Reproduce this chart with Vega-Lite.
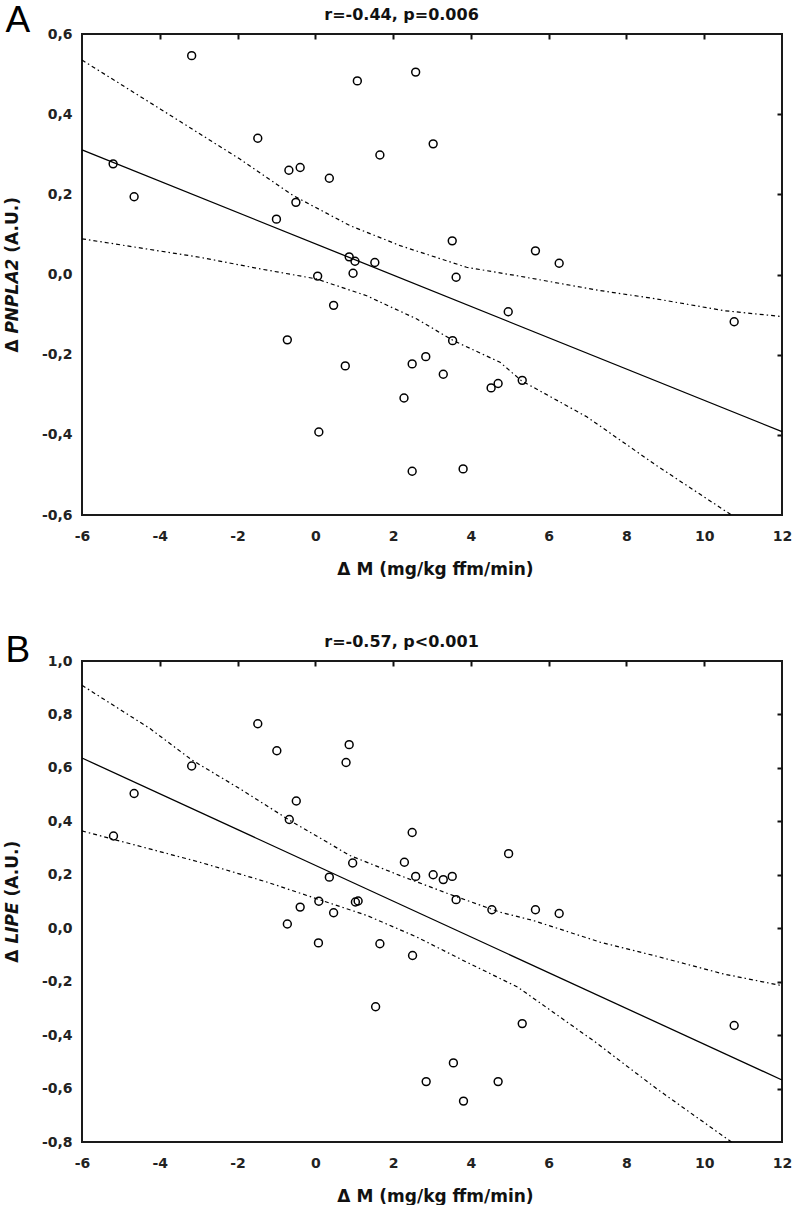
{
  "$schema": "https://vega.github.io/schema/vega-lite/v6.json",
  "background": "white",
  "padding": {"left": 2, "top": 0, "right": 0, "bottom": 0},
  "spacing": 52,
  "config": {
    "font": "DejaVu Sans",
    "view": {"stroke": "#1a1a1a", "strokeWidth": 2},
    "axis": {
      "domain": false,
      "grid": false,
      "labelFont": "DejaVu Sans",
      "labelFontWeight": "bold",
      "labelFontSize": 14,
      "labelColor": "#222222",
      "titleFont": "DejaVu Sans",
      "titleFontWeight": "bold",
      "titleFontSize": 17,
      "titleColor": "#111111",
      "tickColor": "#111111",
      "tickWidth": 2,
      "labelOverlap": false,
      "labelFlush": false
    }
  },
  "datasets": {
    "ptsA": [
      {"x": -5.2, "y": 0.276}, {"x": -4.66, "y": 0.194}, {"x": -3.18, "y": 0.546}, {"x": -1.48, "y": 0.34},
      {"x": -1.0, "y": 0.138}, {"x": -0.68, "y": 0.26}, {"x": -0.5, "y": 0.18}, {"x": -0.39, "y": 0.267},
      {"x": -0.72, "y": -0.163}, {"x": 0.06, "y": -0.004}, {"x": 0.09, "y": -0.393}, {"x": 0.36, "y": 0.24},
      {"x": 0.47, "y": -0.077}, {"x": 0.77, "y": -0.228}, {"x": 0.87, "y": 0.044}, {"x": 0.97, "y": 0.003},
      {"x": 1.02, "y": 0.033}, {"x": 1.08, "y": 0.483}, {"x": 1.53, "y": 0.03}, {"x": 1.66, "y": 0.298},
      {"x": 2.28, "y": -0.308}, {"x": 2.49, "y": -0.223}, {"x": 2.49, "y": -0.491}, {"x": 2.58, "y": 0.505},
      {"x": 2.84, "y": -0.205}, {"x": 3.03, "y": 0.326}, {"x": 3.29, "y": -0.249}, {"x": 3.52, "y": 0.084},
      {"x": 3.53, "y": -0.165}, {"x": 3.62, "y": -0.007}, {"x": 3.8, "y": -0.485}, {"x": 4.52, "y": -0.283},
      {"x": 4.7, "y": -0.272}, {"x": 4.96, "y": -0.093}, {"x": 5.32, "y": -0.264}, {"x": 5.66, "y": 0.059},
      {"x": 6.27, "y": 0.028}, {"x": 10.77, "y": -0.118}
    ],
    "fitA": [{"x": -6, "y": 0.311}, {"x": 12, "y": -0.392}],
    "ciA": [
      {"s": "upper", "x": -6, "y": 0.535}, {"s": "upper", "x": -3.99, "y": 0.413}, {"s": "upper", "x": -1.94, "y": 0.288},
      {"s": "upper", "x": -0.57, "y": 0.197}, {"s": "upper", "x": 0.89, "y": 0.122}, {"s": "upper", "x": 2.18, "y": 0.072},
      {"s": "upper", "x": 3.89, "y": 0.018}, {"s": "upper", "x": 5.18, "y": -0.003}, {"s": "upper", "x": 7.32, "y": -0.04},
      {"s": "upper", "x": 8.78, "y": -0.061}, {"s": "upper", "x": 10.49, "y": -0.09}, {"s": "upper", "x": 12, "y": -0.105},
      {"s": "lower", "x": -6, "y": 0.089}, {"s": "lower", "x": -2.97, "y": 0.043}, {"s": "lower", "x": -1.42, "y": 0.014},
      {"s": "lower", "x": 0.03, "y": -0.011}, {"s": "lower", "x": 1.32, "y": -0.053}, {"s": "lower", "x": 2.61, "y": -0.111},
      {"s": "lower", "x": 3.55, "y": -0.165}, {"s": "lower", "x": 4.75, "y": -0.219}, {"s": "lower", "x": 5.3, "y": -0.265},
      {"s": "lower", "x": 6.98, "y": -0.355}, {"s": "lower", "x": 8.78, "y": -0.477}, {"s": "lower", "x": 10.7, "y": -0.6}
    ],
    "ptsB": [
      {"x": -5.19, "y": 0.345}, {"x": -4.66, "y": 0.504}, {"x": -3.18, "y": 0.607}, {"x": -1.48, "y": 0.765},
      {"x": -0.99, "y": 0.664}, {"x": -0.67, "y": 0.407}, {"x": -0.49, "y": 0.476}, {"x": -0.72, "y": 0.016},
      {"x": -0.39, "y": 0.079}, {"x": 0.08, "y": -0.055}, {"x": 0.09, "y": 0.101}, {"x": 0.36, "y": 0.191},
      {"x": 0.47, "y": 0.058}, {"x": 0.79, "y": 0.62}, {"x": 0.87, "y": 0.687}, {"x": 0.96, "y": 0.244},
      {"x": 1.03, "y": 0.098}, {"x": 1.1, "y": 0.102}, {"x": 1.55, "y": -0.294}, {"x": 1.66, "y": -0.058},
      {"x": 2.29, "y": 0.247}, {"x": 2.49, "y": 0.358}, {"x": 2.5, "y": -0.102}, {"x": 2.58, "y": 0.194},
      {"x": 2.85, "y": -0.574}, {"x": 3.03, "y": 0.2}, {"x": 3.29, "y": 0.182}, {"x": 3.52, "y": 0.194},
      {"x": 3.55, "y": -0.504}, {"x": 3.62, "y": 0.107}, {"x": 3.81, "y": -0.647}, {"x": 4.54, "y": 0.069},
      {"x": 4.7, "y": -0.574}, {"x": 4.97, "y": 0.279}, {"x": 5.32, "y": -0.357}, {"x": 5.66, "y": 0.069},
      {"x": 6.27, "y": 0.055}, {"x": 10.77, "y": -0.364}
    ],
    "fitB": [{"x": -6, "y": 0.637}, {"x": 12, "y": -0.568}],
    "ciB": [
      {"s": "upper", "x": -6, "y": 0.909}, {"s": "upper", "x": -4.25, "y": 0.747}, {"s": "upper", "x": -3.18, "y": 0.63},
      {"s": "upper", "x": -1.94, "y": 0.522}, {"s": "upper", "x": -0.65, "y": 0.403}, {"s": "upper", "x": 0.89, "y": 0.272},
      {"s": "upper", "x": 2.18, "y": 0.197}, {"s": "upper", "x": 3.55, "y": 0.122}, {"s": "upper", "x": 4.75, "y": 0.06},
      {"s": "upper", "x": 5.6, "y": 0.029}, {"s": "upper", "x": 7.32, "y": -0.052}, {"s": "upper", "x": 8.78, "y": -0.105},
      {"s": "upper", "x": 10.49, "y": -0.171}, {"s": "upper", "x": 12, "y": -0.215},
      {"s": "lower", "x": -6, "y": 0.364}, {"s": "lower", "x": -2.97, "y": 0.247}, {"s": "lower", "x": -1.25, "y": 0.173},
      {"s": "lower", "x": 0.04, "y": 0.11}, {"s": "lower", "x": 1.32, "y": 0.048}, {"s": "lower", "x": 2.61, "y": -0.033},
      {"s": "lower", "x": 3.89, "y": -0.127}, {"s": "lower", "x": 5.2, "y": -0.22}, {"s": "lower", "x": 7.2, "y": -0.426},
      {"s": "lower", "x": 8.78, "y": -0.601}, {"s": "lower", "x": 10.7, "y": -0.8}
    ]
  },
  "vconcat": [
    {
      "width": 700,
      "height": 481,
      "resolve": {"axis": {"x": "independent", "y": "independent"}},
      "layer": [
        {
          "data": {"name": "ptsA"},
          "mark": {"type": "point", "shape": "circle", "filled": false, "stroke": "black", "strokeWidth": 1.5, "size": 62, "opacity": 1},
          "encoding": {
            "x": {"field": "x", "type": "quantitative", "scale": {"domain": [-6, 12], "nice": false, "zero": false},
              "axis": {"orient": "bottom", "values": [-6, -4, -2, 0, 2, 4, 6, 8, 10, 12], "ticks": false, "tickSize": 0, "labelPadding": 14,
                "labelExpr": "(datum.value < 0 ? '-' : '') + abs(datum.value)",
                "title": "Δ M (mg/kg ffm/min)", "titleX": 353, "titleY": 59, "titleAlign": "center", "titleBaseline": "alphabetic", "titleAngle": 0}},
            "y": {"field": "y", "type": "quantitative", "scale": {"domain": [-0.6, 0.6], "nice": false, "zero": false},
              "axis": {"orient": "left", "values": [-0.6, -0.4, -0.2, 0, 0.2, 0.4, 0.6], "ticks": false, "tickSize": 0, "labelPadding": 10,
                "labelExpr": "(datum.value < 0 ? '-' : '') + replace(format(abs(datum.value), '.1f'), '.', ',')",
                "title": "Δ", "titleAngle": 270, "titleX": -65, "titleY": 318, "titleAlign": "left", "titleBaseline": "alphabetic"}}
          }
        },
        {
          "data": {"name": "fitA"},
          "mark": {"type": "line", "color": "black", "strokeWidth": 1.3},
          "encoding": {
            "x": {"field": "x", "type": "quantitative", "scale": {"domain": [-6, 12], "nice": false, "zero": false},
              "axis": {"orient": "top", "offset": -5, "values": [-4, -2, 0, 2, 4, 6, 8, 10], "ticks": true, "labels": false, "tickSize": 5,
                "title": "r=-0.44, p=0.006", "titleFontSize": 16, "titleX": 319, "titleY": -20, "titleAlign": "center", "titleBaseline": "alphabetic", "titleAngle": 0}},
            "y": {"field": "y", "type": "quantitative", "scale": {"domain": [-0.6, 0.6], "nice": false, "zero": false},
              "axis": {"orient": "right", "offset": -5, "values": [-0.4, -0.2, 0, 0.2, 0.4], "ticks": true, "labels": false, "tickSize": 5, "title": null}}
          }
        },
        {
          "data": {"name": "ciA"},
          "mark": {"type": "line", "color": "black", "strokeWidth": 1.2, "strokeDash": [4, 3, 1.5, 3]},
          "encoding": {
            "detail": {"field": "s", "type": "nominal"},
            "x": {"field": "x", "type": "quantitative", "scale": {"domain": [-6, 12], "nice": false, "zero": false},
              "axis": {"orient": "top", "ticks": false, "labels": false, "values": [],
                "title": "A", "titleFont": "Liberation Sans", "titleFontWeight": "normal", "titleFontSize": 37, "titleColor": "black",
                "titleX": -77, "titleY": -3, "titleAlign": "left", "titleBaseline": "alphabetic", "titleAngle": 0}},
            "y": {"field": "y", "type": "quantitative", "scale": {"domain": [-0.6, 0.6], "nice": false, "zero": false},
              "axis": {"orient": "left", "ticks": false, "labels": false, "values": [],
                "title": "PNPLA2", "titleFontStyle": "italic", "titleAngle": 270, "titleX": -65, "titleY": 299.1, "titleAlign": "left", "titleBaseline": "alphabetic"}}
          }
        },
        {
          "data": {"name": "ptsA"},
          "mark": {"type": "point", "opacity": 0},
          "encoding": {
            "x": {"field": "x", "type": "quantitative", "scale": {"domain": [-6, 12], "nice": false, "zero": false}, "axis": null},
            "y": {"field": "y", "type": "quantitative", "scale": {"domain": [-0.6, 0.6], "nice": false, "zero": false},
              "axis": {"orient": "left", "ticks": false, "labels": false, "values": [],
                "title": "(A.U.)", "titleAngle": 270, "titleX": -65, "titleY": 218.2, "titleAlign": "left", "titleBaseline": "alphabetic"}}
          }
        }
      ]
    },
    {
      "width": 700,
      "height": 481,
      "resolve": {"axis": {"x": "independent", "y": "independent"}},
      "layer": [
        {
          "data": {"name": "ptsB"},
          "mark": {"type": "point", "shape": "circle", "filled": false, "stroke": "black", "strokeWidth": 1.5, "size": 62, "opacity": 1},
          "encoding": {
            "x": {"field": "x", "type": "quantitative", "scale": {"domain": [-6, 12], "nice": false, "zero": false},
              "axis": {"orient": "bottom", "values": [-6, -4, -2, 0, 2, 4, 6, 8, 10, 12], "ticks": false, "tickSize": 0, "labelPadding": 14,
                "labelExpr": "(datum.value < 0 ? '-' : '') + abs(datum.value)",
                "title": "Δ M (mg/kg ffm/min)", "titleX": 353, "titleY": 59, "titleAlign": "center", "titleBaseline": "alphabetic", "titleAngle": 0}},
            "y": {"field": "y", "type": "quantitative", "scale": {"domain": [-0.8, 1.0], "nice": false, "zero": false},
              "axis": {"orient": "left", "values": [-0.8, -0.6, -0.4, -0.2, 0, 0.2, 0.4, 0.6, 0.8, 1.0], "ticks": false, "tickSize": 0, "labelPadding": 10,
                "labelExpr": "(datum.value < 0 ? '-' : '') + replace(format(abs(datum.value), '.1f'), '.', ',')",
                "title": "Δ", "titleAngle": 270, "titleX": -65, "titleY": 301.2, "titleAlign": "left", "titleBaseline": "alphabetic"}}
          }
        },
        {
          "data": {"name": "fitB"},
          "mark": {"type": "line", "color": "black", "strokeWidth": 1.3},
          "encoding": {
            "x": {"field": "x", "type": "quantitative", "scale": {"domain": [-6, 12], "nice": false, "zero": false},
              "axis": {"orient": "top", "offset": -5, "values": [-4, -2, 0, 2, 4, 6, 8, 10], "ticks": true, "labels": false, "tickSize": 5,
                "title": "r=-0.57, p<0.001", "titleFontSize": 16, "titleX": 319, "titleY": -20, "titleAlign": "center", "titleBaseline": "alphabetic", "titleAngle": 0}},
            "y": {"field": "y", "type": "quantitative", "scale": {"domain": [-0.8, 1.0], "nice": false, "zero": false},
              "axis": {"orient": "right", "offset": -5, "values": [-0.6, -0.4, -0.2, 0, 0.2, 0.4, 0.6, 0.8], "ticks": true, "labels": false, "tickSize": 5, "title": null}}
          }
        },
        {
          "data": {"name": "ciB"},
          "mark": {"type": "line", "color": "black", "strokeWidth": 1.2, "strokeDash": [4, 3, 1.5, 3]},
          "encoding": {
            "detail": {"field": "s", "type": "nominal"},
            "x": {"field": "x", "type": "quantitative", "scale": {"domain": [-6, 12], "nice": false, "zero": false},
              "axis": {"orient": "top", "ticks": false, "labels": false, "values": [],
                "title": "B", "titleFont": "Liberation Sans", "titleFontWeight": "normal", "titleFontSize": 37, "titleColor": "black",
                "titleX": -77, "titleY": 0, "titleAlign": "left", "titleBaseline": "alphabetic", "titleAngle": 0}},
            "y": {"field": "y", "type": "quantitative", "scale": {"domain": [-0.8, 1.0], "nice": false, "zero": false},
              "axis": {"orient": "left", "ticks": false, "labels": false, "values": [],
                "title": "LIPE", "titleFontStyle": "italic", "titleAngle": 270, "titleX": -65, "titleY": 282.1, "titleAlign": "left", "titleBaseline": "alphabetic"}}
          }
        },
        {
          "data": {"name": "ptsB"},
          "mark": {"type": "point", "opacity": 0},
          "encoding": {
            "x": {"field": "x", "type": "quantitative", "scale": {"domain": [-6, 12], "nice": false, "zero": false}, "axis": null},
            "y": {"field": "y", "type": "quantitative", "scale": {"domain": [-0.8, 1.0], "nice": false, "zero": false},
              "axis": {"orient": "left", "ticks": false, "labels": false, "values": [],
                "title": "(A.U.)", "titleAngle": 270, "titleX": -65, "titleY": 235.0, "titleAlign": "left", "titleBaseline": "alphabetic"}}
          }
        }
      ]
    }
  ]
}
